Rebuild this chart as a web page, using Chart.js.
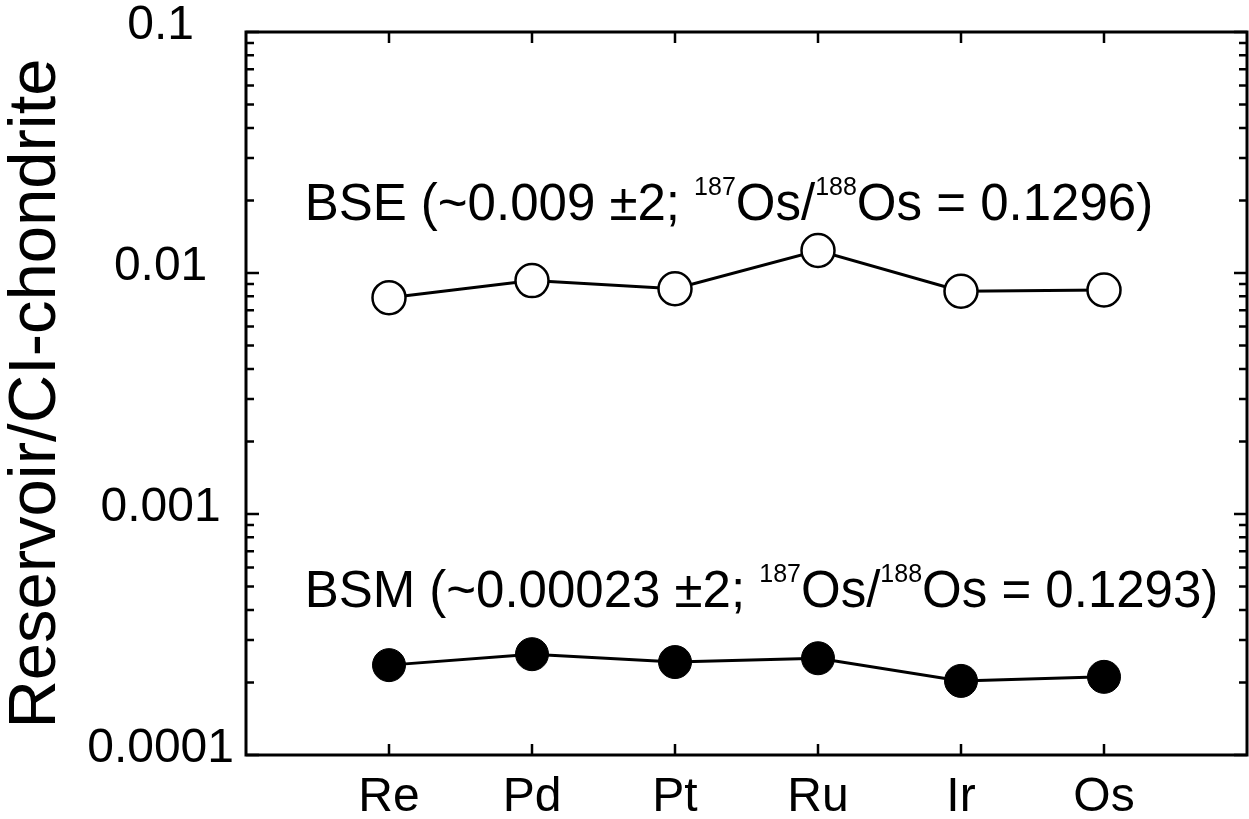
<!DOCTYPE html>
<html>
<head>
<meta charset="utf-8">
<script src="https://cdn.jsdelivr.net/npm/chart.js@4"></script>
<style>
  html, body { margin: 0; padding: 0; background: #ffffff; }
  canvas { display: block; }
</style>
</head>
<body>
<canvas id="hseChart" width="1249" height="819"></canvas>
<script>
// elements and normalised abundances
const categories = ['Re', 'Pd', 'Pt', 'Ru', 'Ir', 'Os'];
const bseValues = [0.0079, 0.0093, 0.0086, 0.0124, 0.0084, 0.0085];
const bsmValues = [0.000236, 0.000262, 0.000243, 0.000252, 0.000203, 0.000211];
const yTickValues = [0.0001, 0.001, 0.01, 0.1];

const FONT = "'Liberation Sans', Arial, sans-serif";

// text labels for each reservoir: [text, isSuperscript]
const bseLabel = [['BSE (~0.009 \u00b12; ', false], ['187', true], ['Os/', false], ['188', true], ['Os = 0.1296)', false]];
const bsmLabel = [['BSM (~0.00023 \u00b12; ', false], ['187', true], ['Os/', false], ['188', true], ['Os = 0.1293)', false]];

function toPoints(values) {
  return values.map((v, i) => ({ x: i + 1, y: v }));
}

// frame with inward ticks, like the original plotting software
const framePlugin = {
  id: 'frame',
  afterDatasetsDraw(chart) {
    const { ctx, chartArea: a, scales: { x, y } } = chart;
    ctx.save();
    ctx.strokeStyle = '#000';
    ctx.lineWidth = 3;
    ctx.strokeRect(a.left, a.top, a.right - a.left, a.bottom - a.top);

    ctx.lineWidth = 2.5;
    ctx.beginPath();
    categories.forEach((c, i) => {
      const px = x.getPixelForValue(i + 1);
      ctx.moveTo(px, a.bottom); ctx.lineTo(px, a.bottom - 11);
      ctx.moveTo(px, a.top); ctx.lineTo(px, a.top + 11);
    });
    for (let d = -4; d <= -1; d++) {
      for (let m = 1; m <= 9; m++) {
        const v = m * Math.pow(10, d);
        if (v > 0.1 + 1e-12) continue;
        const py = y.getPixelForValue(v);
        const len = m === 1 ? 13 : 8;
        ctx.moveTo(a.left, py); ctx.lineTo(a.left + len, py);
        ctx.moveTo(a.right, py); ctx.lineTo(a.right - len, py);
      }
    }
    ctx.stroke();
    ctx.restore();
  }
};

function drawRichText(ctx, parts, x, baseline) {
  let cx = x;
  parts.forEach(([txt, sup]) => {
    ctx.font = (sup ? '25px ' : '51px ') + FONT;
    ctx.fillText(txt, cx, sup ? baseline - 25 : baseline);
    cx += ctx.measureText(txt).width;
  });
}

const labelPlugin = {
  id: 'reservoirLabels',
  afterDatasetsDraw(chart) {
    const { ctx, scales: { x, y } } = chart;
    ctx.save();
    ctx.fillStyle = '#000';
    ctx.textBaseline = 'alphabetic';
    ctx.textAlign = 'left';
    drawRichText(ctx, bseLabel, x.getPixelForValue(0.41), y.getPixelForValue(0.0166));
    drawRichText(ctx, bsmLabel, x.getPixelForValue(0.41), y.getPixelForValue(0.000411));
    ctx.restore();
  }
};

new Chart(document.getElementById('hseChart').getContext('2d'), {
  type: 'line',
  data: {
    datasets: [{
      label: 'BSE',
      data: toPoints(bseValues),
      borderColor: '#000',
      borderWidth: 3,
      pointRadius: 16.5,
      pointBorderWidth: 2.5,
      pointBackgroundColor: '#fff',
      pointBorderColor: '#000'
    }, {
      label: 'BSM',
      data: toPoints(bsmValues),
      borderColor: '#000',
      borderWidth: 3,
      pointRadius: 16.5,
      pointBorderWidth: 1,
      pointBackgroundColor: '#000',
      pointBorderColor: '#000'
    }]
  },
  options: {
    responsive: false,
    animation: false,
    layout: { autoPadding: false, padding: { top: 32, right: 2, left: 0, bottom: 0 } },
    plugins: {
      legend: { display: false },
      tooltip: { enabled: false }
    },
    scales: {
      x: {
        type: 'linear',
        min: 0,
        max: 7,
        grid: { display: false, drawTicks: false },
        border: { display: false },
        afterBuildTicks: (scale) => { scale.ticks = categories.map((c, i) => ({ value: i + 1 })); },
        afterFit: (scale) => {
          scale.height = 64;
          scale.paddingLeft = 0;
          scale.paddingRight = 0;
        },
        ticks: {
          color: '#000',
          padding: 14,
          maxRotation: 0,
          font: { family: FONT, size: 48 },
          callback: (v) => categories[v - 1]
        }
      },
      y: {
        type: 'logarithmic',
        min: 0.0001,
        max: 0.1,
        grid: { display: false, drawTicks: false },
        border: { display: false },
        afterBuildTicks: (scale) => { scale.ticks = yTickValues.map(v => ({ value: v })); },
        afterFit: (scale) => {
          scale.width = 246;
          scale.paddingTop = 0;
          scale.paddingBottom = 0;
        },
        title: {
          display: true,
          text: 'Reservoir/CI-chondrite',
          color: '#000',
          padding: 0,
          font: { family: FONT, size: 67, lineHeight: 1.1 }
        },
        ticks: {
          color: '#000',
          padding: 12,
          crossAlign: 'center',
          labelOffset: -6,
          font: { family: FONT, size: 48 },
          callback: (v) => String(v)
        }
      }
    }
  },
  plugins: [framePlugin, labelPlugin]
});
</script>
</body>
</html>
